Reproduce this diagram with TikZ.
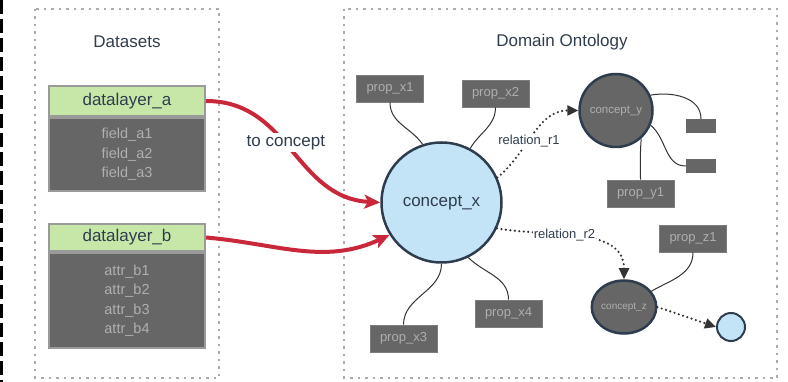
\documentclass[tikz,border=0pt]{standalone}
\usepackage{fontspec}
\setmainfont{Liberation Sans}
\usetikzlibrary{arrows.meta,shapes.geometric}
\definecolor{ink}{HTML}{2F3D4C}
\definecolor{hdr}{HTML}{C6E7A8}
\definecolor{slab}{HTML}{666666}
\definecolor{pale}{HTML}{AFAFAF}
\definecolor{edge}{HTML}{9A9A9A}
\definecolor{wire}{HTML}{C8283A}
\definecolor{sky}{HTML}{C3E4F7}
\definecolor{rim}{HTML}{2E3D4D}
\definecolor{frame}{HTML}{ABABAB}
\definecolor{tiec}{HTML}{333333}

\begin{document}
\begin{tikzpicture}[
	x=1pt,y=1pt,
	font=\fontsize{17}{20}\selectfont,
	grp/.style={draw=frame,line width=1.4pt,dash pattern=on 2.5pt off 5pt},
	ttl/.style={text=ink},
	hd/.style={rectangle,draw=edge,line width=2pt,fill=hdr,text=ink,minimum width=156pt,inner sep=0pt},
	bd/.style={rectangle,draw=edge,line width=2pt,fill=slab,text=pale,minimum width=156pt,inner sep=0pt,align=center,font=\fontsize{14.5}{19.5}\selectfont},
	pr/.style={rectangle,fill=slab,draw=slab!85!white,line width=0.6pt,text=pale,minimum width=67pt,minimum height=27pt,inner sep=0pt,font=\fontsize{13}{15}\selectfont},
	cn/.style={circle,draw=rim,line width=2.5pt,inner sep=0pt},
	sq/.style={rectangle,fill=slab,minimum width=30pt,minimum height=14pt,inner sep=0pt},
	tie/.style={draw=tiec,line width=1pt},
	rel/.style={draw=tiec,line width=2.4pt,dash pattern=on 0pt off 4.5pt,line cap=round,-{Triangle[length=11pt,width=10pt]}},
	feed/.style={draw=wire,line width=4pt,-{Stealth[length=16pt,width=14pt,inset=4pt]}},
	lbl/.style={fill=white,text=ink,inner sep=1pt,font=\fontsize{13}{15}\selectfont},
	]
\useasboundingbox (0,0) rectangle (788,-382);
\draw[black,line width=3pt,dash pattern=on 14pt off 5pt] (1.5,0) -- (1.5,-382);

% groups
\draw[grp] (35,-9) rectangle (219,-378);
\draw[grp] (344,-9) rectangle (777,-378);
\node[ttl] (tds) at (127,-42) {Datasets};
\node[ttl] (tdo) at (562,-42) {Domain Ontology};

% datasets
\node[bd,minimum height=73pt] (fla) at (127,-154.5) {field\_a1\\field\_a2\\field\_a3};
\node[hd,minimum height=30pt] (dla) at (127,-101) {datalayer\_a};
\node[bd,minimum height=95pt] (flb) at (127,-300.5) {attr\_b1\\attr\_b2\\attr\_b3\\attr\_b4};
\node[hd,minimum height=27pt] (dlb) at (127,-237.5) {datalayer\_b};

% ontology
\node[cn,fill=sky,text=ink,minimum size=120pt] (cx) at (441.5,-202.5) {concept\_x};
\node[cn,fill=slab,text=pale,minimum size=73pt,font=\fontsize{11.5}{13}\selectfont] (cy) at (616,-110.5) {concept\_y};
\node[cn,ellipse,fill=slab,text=pale,minimum width=59pt,minimum height=53pt,font=\fontsize{10}{12}\selectfont] (cz) at (624,-307) {concept\_z};
\node[cn,fill=sky,line width=2pt,minimum size=28pt] (dot) at (731,-327) {};

\node[pr] (px1) at (390,-88.5) {prop\_x1};
\node[pr] (px2) at (495.5,-93.5) {prop\_x2};
\node[pr] (px3) at (403.5,-338.5) {prop\_x3};
\node[pr] (px4) at (508.5,-313.5) {prop\_x4};
\node[pr] (py1) at (640.5,-193.5) {prop\_y1};
\node[pr] (pz1) at (693,-238.5) {prop\_z1};
\node[sq] (sq1) at (701,-126) {};
\node[sq] (sq2) at (701,-166) {};

\draw[tie] (px1.south) to[out=-90,in=125] (cx.108);
\draw[tie] (px2.south) to[out=-90,in=60] (cx.62);
\draw[tie] (px3.north) to[out=90,in=-90] (cx.-90);
\draw[tie] (px4.north) to[out=90,in=-45] (cx.-64);
\draw[tie] (cy.24) to[out=10,in=90] (sq1.north);
\draw[tie] (cy.-23) to[out=-40,in=180] (sq2.west);
\draw[tie] (py1.north) to[out=90,in=-95] (cy.-48);
\draw[tie] (pz1.south) to[out=-90,in=30] (cz.30);

\draw[rel] (cx.24) to[out=40,in=180] node[lbl,pos=0.42] {relation\_r1} (cy.west);
\draw[rel] (cx.-25) to[out=-10,in=90] node[lbl,pos=0.4] {relation\_r2} (cz.north);
\draw[rel] (cz.east) -- (dot.west);

% feeds
\draw[feed] (dla.east) .. controls (290,-101) and (295,-198) .. (cx.west)
	node[lbl,pos=0.45,inner sep=2pt,font=\fontsize{17}{20}\selectfont] {to concept};
\draw[feed] (dlb.east) to[out=-5,in=205] (cx.212);
\end{tikzpicture}
\end{document}
